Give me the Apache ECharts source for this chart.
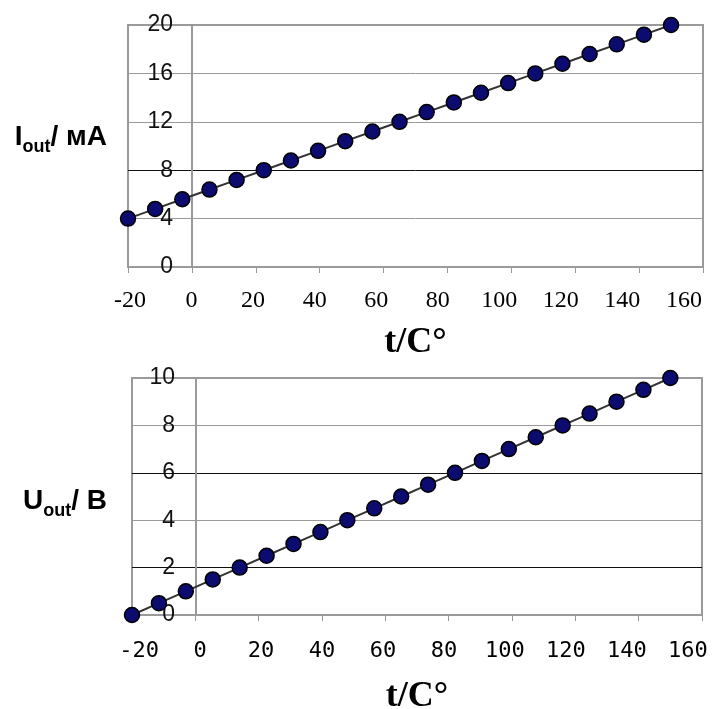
<!DOCTYPE html>
<html>
<head>
<meta charset="utf-8" />
<title>Iout, Uout — t</title>
<script src="https://cdn.jsdelivr.net/npm/echarts@6/dist/echarts.min.js"></script>
<style>
  html, body { margin: 0; padding: 0; background: #fff; }
  #chart { width: 712px; height: 709px; }
</style>
</head>
<body>
<div id="chart"></div>
<script>
// температура, °C (общая для обоих графиков)
const temps = [-20, -11.5, -3, 5.5, 14, 22.5, 31, 39.5, 48, 56.5, 65, 73.5, 82, 90.5, 99, 107.5, 116, 124.5, 133, 141.5, 150]
// выходной ток, мА
const currentMA = [4, 4.8, 5.6, 6.4, 7.2, 8, 8.8, 9.6, 10.4, 11.2, 12, 12.8, 13.6, 14.4, 15.2, 16, 16.8, 17.6, 18.4, 19.2, 20]
// выходное напряжение, В
const voltageV = [0, 0.5, 1, 1.5, 2, 2.5, 3, 3.5, 4, 4.5, 5, 5.5, 6, 6.5, 7, 7.5, 8, 8.5, 9, 9.5, 10]
// подписи оси t
const tLabels = [-20, 0, 20, 40, 60, 80, 100, 120, 140, 160]

const GRAY = "#9a9a9a"
const DARK = "#111"
const NONE = "rgba(0,0,0,0)"

const chart = echarts.init(document.getElementById("chart"))

function pairs(ys) {
  return temps.map((t, i) => [t, ys[i]])
}

function lineSeries(idx, ys) {
  return {
    type: "line",
    xAxisIndex: idx,
    yAxisIndex: idx,
    data: pairs(ys),
    symbol: "circle",
    symbolSize: 15,
    lineStyle: { color: "#333", width: 2 },
    itemStyle: { color: "#0b0b70", borderColor: "#000", borderWidth: 1.5 },
    z: 5
  }
}

// основная ось t: шкала, засечки, сетка
function tAxis(grid, name, nameGap, gridColors) {
  return {
    type: "value",
    gridIndex: grid,
    position: "bottom",
    min: -20,
    max: 160,
    interval: 20,
    axisLine: { show: true, onZero: false, lineStyle: { color: GRAY, width: 2 } },
    axisTick: { show: true, length: 6, lineStyle: { color: GRAY } },
    axisLabel: { show: false },
    splitLine: { show: true, lineStyle: { width: 1, color: gridColors } },
    name: name,
    nameLocation: "middle",
    nameGap: nameGap,
    nameTextStyle: { fontFamily: "Liberation Serif", fontWeight: "bold", fontSize: 36, color: "#000" }
  }
}

// подписи t в оригинале идут чуть плотнее засечек — отдельная ось только для текста
function tLabelAxis(grid, min, max, margin, font, size) {
  return {
    type: "value",
    gridIndex: grid,
    position: "bottom",
    min: min,
    max: max,
    axisLine: { show: false },
    axisTick: { show: false },
    splitLine: { show: false },
    axisLabel: { customValues: tLabels, margin: margin, fontFamily: font, fontSize: size, color: "#000" }
  }
}

function nameStyle(padTop, padBottom) {
  return {
    align: "right",
    padding: [padTop, 0, padBottom, 0],
    rich: {
      m: { fontFamily: "Liberation Sans", fontWeight: "bold", fontSize: 28, color: "#000", lineHeight: 32 },
      s: { fontFamily: "Liberation Sans", fontWeight: "bold", fontSize: 18, color: "#000", lineHeight: 32, verticalAlign: "bottom", padding: [0, 0, -3, 0] }
    }
  }
}

const option = {
  animation: false,
  grid: [
    { left: 128, top: 25, width: 575, height: 242, show: true, borderColor: GRAY, borderWidth: 2, outerBoundsMode: "none" },
    { left: 132, top: 378, width: 570, height: 237, show: true, borderColor: GRAY, borderWidth: 2, outerBoundsMode: "none" }
  ],
  xAxis: [
    tAxis(0, "t/C°", 58, [NONE, DARK, NONE, NONE, NONE, NONE, NONE, NONE, NONE, NONE]),
    tAxis(1, "t/C°", 64, [NONE, GRAY, NONE, NONE, NONE, NONE, NONE, NONE, NONE, NONE]),
    tLabelAxis(0, -20.65, 166.2, 22, "Liberation Serif", 24),
    tLabelAxis(1, -22.3, 164.6, 25, "DejaVu Sans Mono", 22)
  ],
  yAxis: [
    {
      type: "value",
      gridIndex: 0,
      min: 0,
      max: 20,
      interval: 4,
      axisLine: { show: true, lineStyle: { color: GRAY, width: 2 } },
      axisTick: { show: false },
      axisLabel: { margin: -45, fontFamily: "Liberation Sans", fontSize: 23, color: DARK },
      splitLine: { show: true, lineStyle: { width: 1, color: [NONE, GRAY, DARK, GRAY, GRAY, NONE] } },
      name: "{m|I}{s|out}{m|/ мА}",
      nameLocation: "middle",
      nameRotate: 0,
      nameGap: 21,
      nameTextStyle: nameStyle(0, 18)
    },
    {
      type: "value",
      gridIndex: 1,
      min: 0,
      max: 10,
      interval: 2,
      axisLine: { show: true, lineStyle: { color: GRAY, width: 2 } },
      axisTick: { show: false },
      axisLabel: { margin: -43, fontFamily: "Liberation Sans", fontSize: 23, color: DARK },
      splitLine: { show: true, lineStyle: { width: 1, color: [NONE, DARK, GRAY, DARK, GRAY, NONE] } },
      name: "{m|U}{s|out}{m|/ B}",
      nameLocation: "middle",
      nameRotate: 0,
      nameGap: 25,
      nameTextStyle: nameStyle(10, 0)
    }
  ],
  series: [lineSeries(0, currentMA), lineSeries(1, voltageV)]
}

chart.setOption(option)
</script>
</body>
</html>
